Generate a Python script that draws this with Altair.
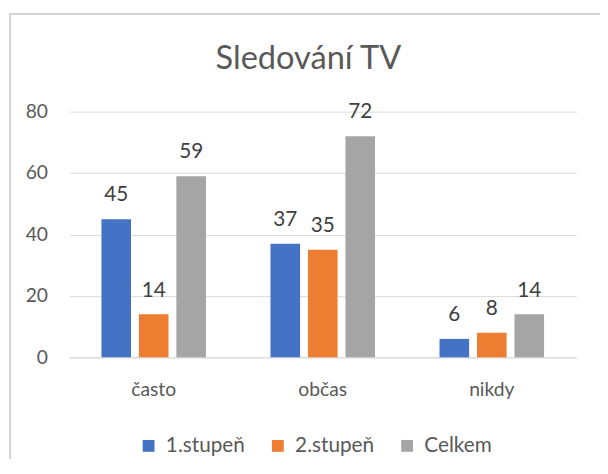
import altair as alt
import pandas as pd

categories = ["často", "občas", "nikdy"]
series = ["1.stupeň", "2.stupeň", "Celkem"]
values_1 = [45, 37, 6]
values_2 = [14, 35, 8]
values_c = [59, 72, 14]
colors = ["#4472C4", "#ED7D31", "#A5A5A5"]

rows = []
for i, c in enumerate(categories):
    for s, vals in zip(series, [values_1, values_2, values_c]):
        rows.append({"kat": c, "serie": s, "hodnota": vals[i]})
df = pd.DataFrame(rows)

FONT = "Lato"

x = alt.X("kat:N", sort=categories, title=None,
          scale=alt.Scale(paddingInner=0.335, paddingOuter=0.1675),
          axis=alt.Axis(labelAngle=0, labelFontSize=19.5, labelColor="#595959",
                        labelFont=FONT, ticks=False, domainColor="#D9D9D9",
                        labelPadding=24))
xo = alt.XOffset("serie:N", sort=series,
                 scale=alt.Scale(paddingInner=0.21, paddingOuter=0.105))
y = alt.Y("hodnota:Q", title=None,
          scale=alt.Scale(domain=[0, 80]),
          axis=alt.Axis(values=[0, 20, 40, 60, 80], labelFontSize=19.5,
                        labelColor="#595959", labelFont=FONT, ticks=False,
                        domain=False, gridColor="#D9D9D9", labelPadding=22))

bars = alt.Chart(df).mark_bar().encode(
    x=x, xOffset=xo, y=y,
    color=alt.Color("serie:N", sort=series,
                    scale=alt.Scale(domain=series, range=colors),
                    legend=alt.Legend(title=None, orient="none", direction="horizontal",
                                      legendX=70, legendY=328,
                                      symbolType="square", symbolSize=144,
                                      labelFontSize=21, labelColor="#595959",
                                      labelFont=FONT, columnPadding=22,
                                      labelOffset=7, symbolStrokeWidth=0)),
)

labels = alt.Chart(df).mark_text(dy=-24, fontSize=21, color="#404040", font=FONT).encode(
    x=alt.X("kat:N", sort=categories), xOffset=alt.XOffset("serie:N", sort=series),
    y="hodnota:Q", text="hodnota:Q",
)

frame = alt.Chart(pd.DataFrame({"a": [0]})).mark_rect(
    fill="transparent", stroke="#D4D4D4", strokeWidth=2, clip=False
).encode(x=alt.value(-60), x2=alt.value(545), y=alt.value(-99), y2=alt.value(372))

chart = alt.layer(frame, bars, labels).properties(
    width=514, height=249,
    title=alt.TitleParams("Sledování TV", fontSize=33, font=FONT, color="#595959",
                          fontWeight="normal", offset=-64, anchor="middle",
                          frame="bounds"),
    padding={"left": 62, "top": 102, "right": 24, "bottom": 100},
    autosize=alt.AutoSizeParams(type="none"),
).configure_view(stroke=None).configure_axisY(grid=True).configure_axisX(grid=False)

chart.save("out.html", embed_options={"renderer": "svg", "actions": False})
